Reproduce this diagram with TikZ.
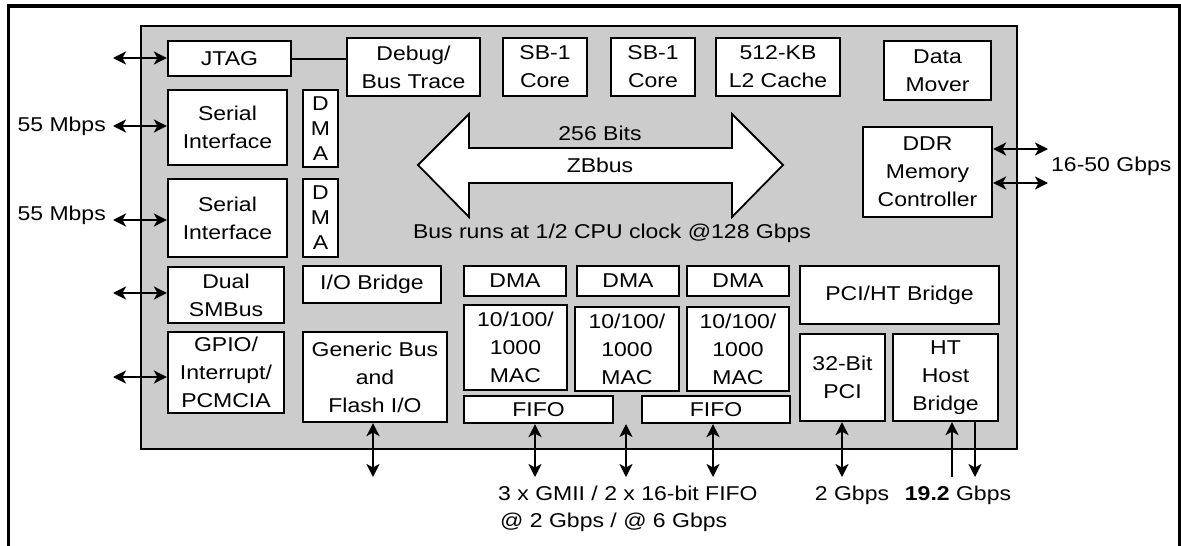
\documentclass[tikz,border=0pt]{standalone}
\usepackage{fontspec}
\setmainfont{Liberation Sans}[FakeStretch=1.15]
\usetikzlibrary{arrows.meta}
\definecolor{chipgray}{RGB}{204,204,204}
\tikzset{
  box/.style={draw, fill=white, line width=2.2pt, inner sep=0pt, align=center},
  lbl/.style={inner sep=0pt},
  conn/.style={line width=2pt},
  >={Stealth[length=13pt,width=13pt,inset=3.5pt]}
}
\begin{document}
\begin{tikzpicture}[x=1pt,y=-1pt, every node/.style={font=\fontsize{20}{28}\selectfont}]
\useasboundingbox (0,0) rectangle (1181,546);
% outer frame (open at bottom)
\draw[line width=3.2pt] (8.5,546) -- (8.5,6) -- (1179.5,6) -- (1179.5,546);
% chip
\draw[fill=chipgray, line width=2.2pt] (141,26) rectangle (1017,449);

% top row
\node[box, minimum width=123pt, minimum height=35pt] (jtag) at (229.5,58.5) {JTAG};
\node[box, minimum width=133pt, minimum height=58pt] (debug) at (413.5,67) {Debug/\\Bus Trace};
\node[box, minimum width=84pt, minimum height=58pt] (sba) at (545,67) {SB-1\\Core};
\node[box, minimum width=84pt, minimum height=58pt] (sbb) at (653,67) {SB-1\\Core};
\node[box, minimum width=124pt, minimum height=58pt] (l2) at (778,67) {512-KB\\L2 Cache};
\node[box, minimum width=107pt, minimum height=59pt] (dm) at (937.5,70.5) {Data\\Mover};
\node[box, minimum width=129pt, minimum height=90pt] (ddr) at (927.5,172) {DDR\\Memory\\Controller};

% left column
\node[box, minimum width=119pt, minimum height=75pt] (ser1) at (227.5,127.5) {Serial\\Interface};
\node[box, minimum width=35pt, minimum height=77pt, font=\fontsize{20}{25}\selectfont] (dmav1) at (320.5,128.5) {D\\M\\A};
\node[box, minimum width=119pt, minimum height=78pt] (ser2) at (227.5,218) {Serial\\Interface};
\node[box, minimum width=35pt, minimum height=78pt, font=\fontsize{20}{25}\selectfont] (dmav2) at (320.5,218) {D\\M\\A};
\node[box, minimum width=116pt, minimum height=56pt] (smb) at (226,295) {Dual\\SMBus};
\node[box, minimum width=138pt, minimum height=37pt] (iob) at (372,284.5) {I/O Bridge};
\node[box, minimum width=116pt, minimum height=81pt] (gpio) at (226,372.5) {GPIO/\\Interrupt/\\PCMCIA};
\node[box, minimum width=144pt, minimum height=90pt] (gen) at (375,377) {Generic Bus\\and\\Flash I/O};

% MAC blocks
\node[box, minimum width=102pt, minimum height=30pt] (dma1) at (515,281) {DMA};
\node[box, minimum width=102pt, minimum height=30pt] (dma2) at (628,281) {DMA};
\node[box, minimum width=102pt, minimum height=30pt] (dma3) at (738,281) {DMA};
\node[box, minimum width=103pt, minimum height=85pt] (mac1) at (515.5,347.5) {10/100/\\1000\\MAC};
\node[box, minimum width=104pt, minimum height=84pt] (mac2) at (627,349) {10/100/\\1000\\MAC};
\node[box, minimum width=102pt, minimum height=84pt] (mac3) at (738,349) {10/100/\\1000\\MAC};
\node[box, minimum width=149pt, minimum height=27pt] (fifo1) at (538.5,409.5) {FIFO};
\node[box, minimum width=148pt, minimum height=27pt] (fifo2) at (716,409.5) {FIFO};

% PCI / HT
\node[box, minimum width=199pt, minimum height=58pt] (pciht) at (899.5,295) {PCI/HT Bridge};
\node[box, minimum width=85pt, minimum height=87pt] (pci) at (842.5,377.5) {32-Bit\\PCI};
\node[box, minimum width=105pt, minimum height=87pt] (hth) at (945.5,377.5) {HT\\Host\\Bridge};

% ZBbus
\draw[fill=white, line width=1.8pt] (418,165) -- (469,114) -- (469,148) -- (732,148) -- (732,114)
  -- (783,165) -- (732,217) -- (732,183) -- (469,183) -- (469,217) -- cycle;
\node[lbl] (bits) at (600,133) {256 Bits};
\node[lbl] (zb) at (600,165) {ZBbus};
\node[lbl] (busruns) at (612,233) {Bus runs at 1/2 CPU clock @128 Gbps};

% JTAG - Debug link
\draw[conn] (jtag.east) -- (jtag.east -| debug.west);

% left arrows
\coordinate (lj) at (113,58);
\coordinate (l1) at (113,126);
\coordinate (l2c) at (113,220);
\coordinate (l3) at (113,293);
\coordinate (l4) at (113,377);
\draw[conn,<->] (lj) -- (lj -| jtag.west);
\draw[conn,<->] (l1) -- (l1 -| ser1.west);
\draw[conn,<->] (l2c) -- (l2c -| ser2.west);
\draw[conn,<->] (l3) -- (l3 -| smb.west);
\draw[conn,<->] (l4) -- (l4 -| gpio.west);
\node[lbl, anchor=east] (m1) at (106,126) {55 Mbps};
\node[lbl, anchor=east] (m2) at (106,215) {55 Mbps};

% DDR arrows
\coordinate (d1) at (1048,149);
\coordinate (d2) at (1048,183);
\draw[conn,<->] (d1 -| ddr.east) -- (d1);
\draw[conn,<->] (d2 -| ddr.east) -- (d2);
\node[lbl, anchor=west] (ddrl) at (1051,166) {16-50 Gbps};

% bottom arrows
\coordinate (bg) at (373,477);
\coordinate (bf1) at (535,477);
\coordinate (bm) at (626,477);
\coordinate (bmt) at (626,424);
\coordinate (bf2) at (713,477);
\coordinate (bp) at (842,477);
\coordinate (bhu) at (952,477);
\coordinate (bhd) at (975,477);
\draw[conn,<->] (bg |- gen.south) -- (bg);
\draw[conn,<->] (bf1 |- fifo1.south) -- (bf1);
\draw[conn,<->] (bmt) -- (bm);
\draw[conn,<->] (bf2 |- fifo2.south) -- (bf2);
\draw[conn,<->] (bp |- pci.south) -- (bp);
\draw[conn,->] (bhu) -- (bhu |- hth.south);
\draw[conn,->] (bhd |- hth.south) -- (bhd);

% bottom labels
\node[lbl, anchor=west] (gmii) at (498,493) {3 x GMII / 2 x 16-bit FIFO};
\node[lbl, anchor=west] (rate) at (500,522) {@ 2 Gbps / @ 6 Gbps};
\node[lbl] (pcil) at (852,495) {2 Gbps};
\node[lbl] (htl) at (958,495) {\textbf{19.2} Gbps};
\end{tikzpicture}
\end{document}
